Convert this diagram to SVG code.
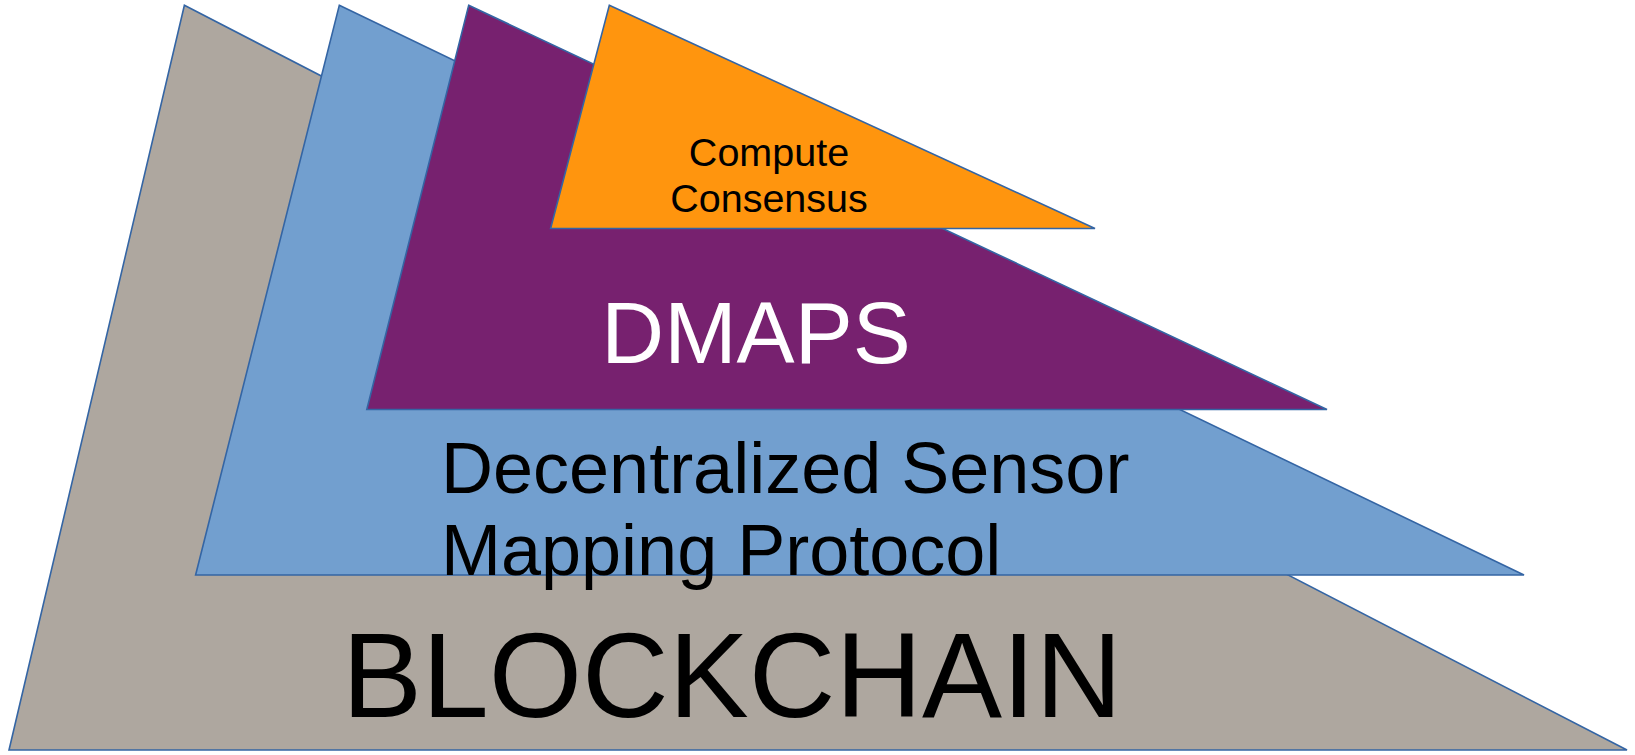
<svg xmlns="http://www.w3.org/2000/svg" width="1635" height="755" viewBox="0 0 1635 755">
<style>
.layer{stroke:#3465A4;stroke-width:1.6;stroke-linejoin:miter}
.t{font-family:"Liberation Sans",Arial,sans-serif}
</style>
<rect width="1635" height="755" fill="#FFFFFF"/>
<g id="blockchain">
<polygon class="layer" fill="#AEA79F" points="184.4,5.3 1627,750 9,750"/>
<text class="t" x="732" y="717" font-size="120" text-anchor="middle" fill="#000000">BLOCKCHAIN</text>
</g>
<g id="dsmp">
<polygon class="layer" fill="#729FCF" points="339.3,5.3 1524,575 195.6,575"/>
<text class="t" font-size="72" fill="#000000"><tspan x="441" y="493">Decentralized Sensor</tspan><tspan x="441" y="575">Mapping Protocol</tspan></text>
</g>
<g id="dmaps">
<polygon class="layer" fill="#77216F" points="468.7,5.3 1327,409.5 366.8,409.5"/>
<text class="t" x="756" y="363" font-size="87" text-anchor="middle" fill="#FFFFFF">DMAPS</text>
</g>
<g id="compute-consensus">
<polygon class="layer" fill="#FF950E" points="609.3,5.3 1095,228.5 550.6,228.5"/>
<text class="t" font-size="39.5" text-anchor="middle" fill="#000000"><tspan x="769" y="166">Compute</tspan><tspan x="769" y="212">Consensus</tspan></text>
</g>
<g id="connectors"/>
</svg>
